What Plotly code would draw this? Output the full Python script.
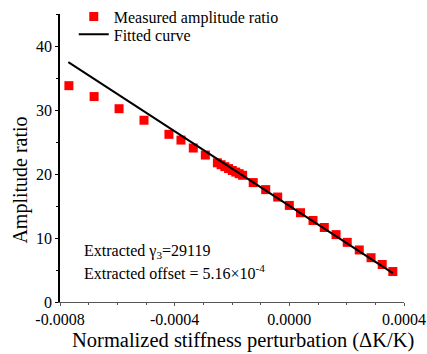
import plotly.graph_objects as go

# Measured amplitude ratio vs. normalized stiffness perturbation
dk_over_k = [
    -0.000769, -0.000681, -0.000594, -0.000507, -0.000420, -0.000378,
    -0.000335, -0.000293,
    -0.000251, -0.000238, -0.000225, -0.000212, -0.000199, -0.000187, -0.000175, -0.000163,
    -0.000126, -0.0000824, -0.0000406, 0.0000, 0.0000390, 0.0000826,
    0.000122, 0.000163, 0.000202, 0.000244, 0.000285, 0.000324, 0.000361,
]
amp_ratio = [
    33.8, 32.1, 30.2, 28.4, 26.2, 25.3,
    24.06, 22.96,
    21.75, 21.45, 21.15, 20.85, 20.55, 20.3, 20.05, 19.8,
    18.66, 17.56, 16.40, 15.09, 13.95, 12.74,
    11.64, 10.53, 9.32, 8.13, 6.92, 5.86, 4.76,
]

# Fit parameters
gamma3 = 29119
offset = 5.16e-4
fit_x = [-0.000771, 0.000361]
fit_y = [gamma3 * (offset - x) for x in fit_x]

x_tickvals = [-0.0008, -0.0004, 0.0, 0.0004]
x_ticktext = ["-0.0008", "-0.0004", "0.0000", "0.0004"]
y_tickvals = [0, 10, 20, 30, 40]

x_title = "Normalized stiffness perturbation (ΔK/K)"
y_title = "Amplitude ratio"

serif = "Liberation Serif"

fig = go.Figure()
fig.add_trace(go.Scatter(
    x=dk_over_k, y=amp_ratio, mode="markers",
    name="Measured amplitude ratio", legend="legend",
    marker=dict(symbol="square", size=9, color="#ff0000", line=dict(width=0)),
))
fig.add_trace(go.Scatter(
    x=fit_x, y=fit_y, mode="lines",
    name="Fitted curve", legend="legend2",
    line=dict(color="black", width=2),
))

fig.add_annotation(
    x=0.065, y=0.175, xref="paper", yref="paper", xanchor="left", yanchor="middle",
    text="Extracted γ<sub>3</sub>=29119", showarrow=False,
    font=dict(family=serif, size=16, color="black"),
)
fig.add_annotation(
    x=0.065, y=0.105, xref="paper", yref="paper", xanchor="left", yanchor="middle",
    text="Extracted offset = 5.16×10<sup>-4</sup>", showarrow=False,
    font=dict(family=serif, size=16, color="black"),
)

# Axis titles
fig.add_annotation(
    x=0.532, y=-0.135, xref="paper", yref="paper", xanchor="center", yanchor="middle",
    text=x_title, showarrow=False,
    font=dict(family=serif, size=20.5, color="black"),
)
fig.add_annotation(
    x=-0.115, y=0.423, xref="paper", yref="paper", xanchor="center", yanchor="middle",
    text=y_title, showarrow=False, textangle=-90,
    font=dict(family=serif, size=20, color="black"),
)

legend_style = dict(
    xanchor="left", yanchor="top",
    bgcolor="rgba(0,0,0,0)", font=dict(family=serif, size=16, color="black"),
    itemwidth=30,
)

fig.update_layout(
    width=427, height=354,
    margin=dict(l=60, r=23, t=14, b=52, autoexpand=False),
    paper_bgcolor="white", plot_bgcolor="white",
    font=dict(family=serif, size=16, color="black"),
    showlegend=True,
    legend=dict(x=0.04, y=1.05, **legend_style),
    legend2=dict(x=0.04, y=0.988, **legend_style),
    xaxis=dict(
        range=[-0.0008, 0.0004],
        tickvals=x_tickvals, ticktext=x_ticktext,
        showgrid=False, zeroline=False,
        showline=True, linecolor="#555555", linewidth=1,
        ticks="outside", ticklen=3, tickcolor="#555555",
        minor=dict(dtick=0.0001, ticks="outside", ticklen=2, tickcolor="#555555"),
        tickfont=dict(family=serif, size=16),
    ),
    yaxis=dict(
        range=[0, 45],
        tickvals=y_tickvals,
        showgrid=False, zeroline=False,
        showline=True, linecolor="black", linewidth=1.5,
        ticks="outside", ticklen=3, tickcolor="black",
        minor=dict(dtick=5, ticks="outside", ticklen=2, tickcolor="black"),
        tickfont=dict(family=serif, size=16),
    ),
)

fig.write_html("out.html")
